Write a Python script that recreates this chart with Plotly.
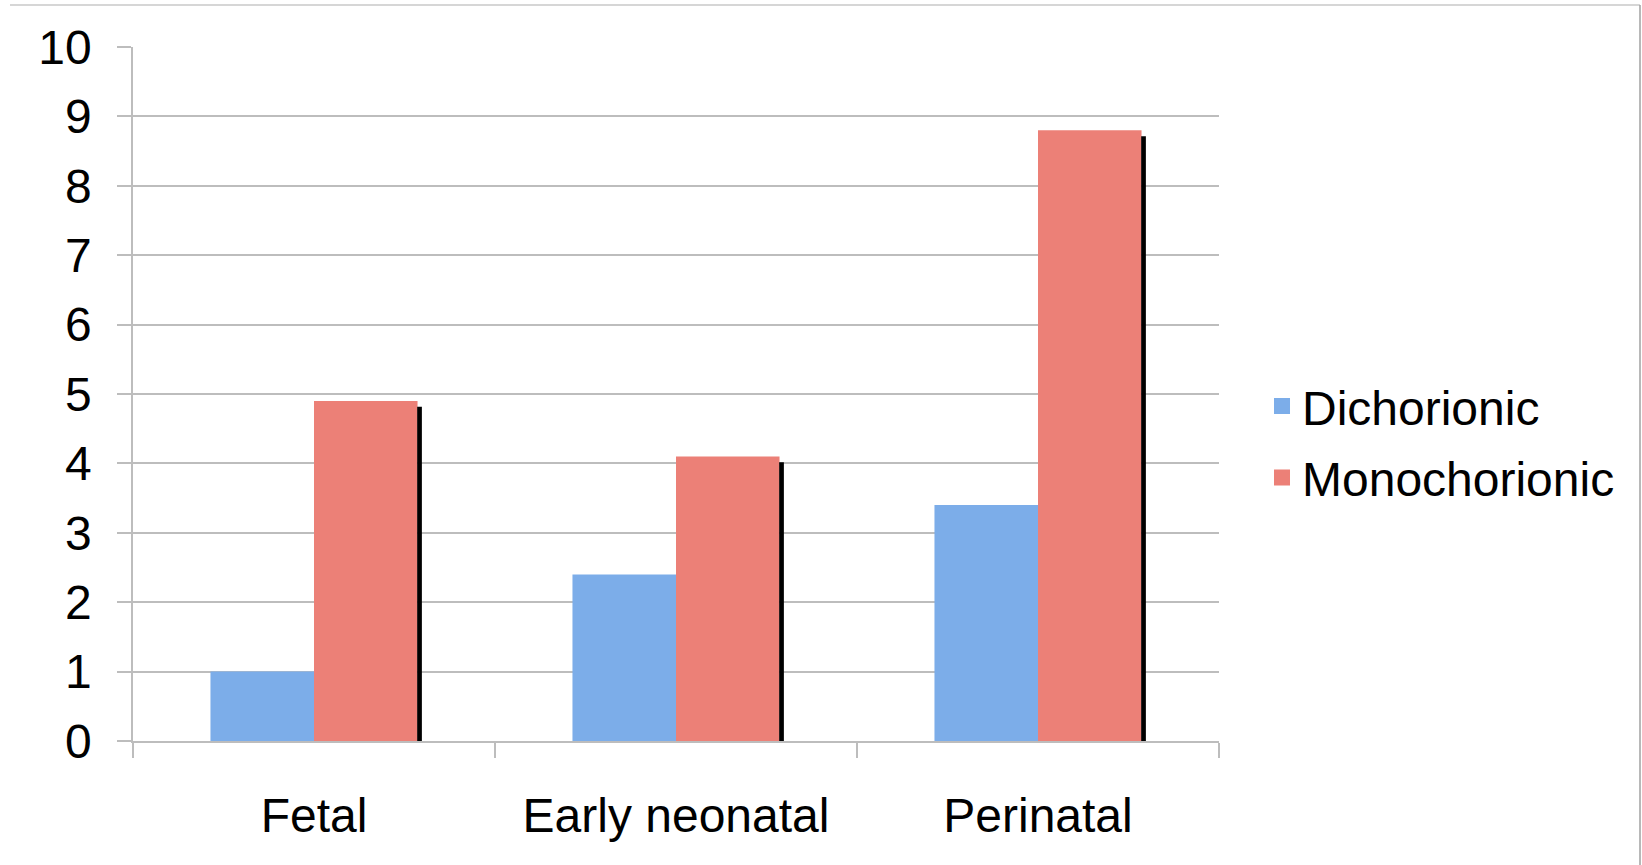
import plotly.graph_objects as go

categories = ["Fetal", "Early neonatal", "Perinatal"]
dichorionic = [1.0, 2.4, 3.4]
monochorionic = [4.9, 4.1, 8.8]
y_ticks = list(range(0, 11))

BLUE = "#7cade9"
RED = "#ec8077"
GRID = "#bdbdbd"
FONT = "Liberation Sans, Arial, sans-serif"

bar_w = 0.286
fig = go.Figure()
fig.add_trace(go.Bar(x=categories, y=dichorionic, name="Dichorionic", width=bar_w, offset=-bar_w,
                     marker=dict(color=BLUE, line=dict(width=0)), showlegend=False))
fig.add_trace(go.Bar(x=categories, y=monochorionic, name="Monochorionic", width=bar_w, offset=0,
                     marker=dict(color=RED, line=dict(width=0)), showlegend=False))
# drop shadow on the right of the monochorionic bars
fig.add_trace(go.Bar(x=categories, y=[v - 0.085 for v in monochorionic], width=0.013, offset=bar_w - 0.001,
                     marker=dict(color="black", line=dict(width=0)), showlegend=False, hoverinfo="skip"))
# legend entries
fig.add_trace(go.Scatter(x=[None], y=[None], mode="markers", name="Dichorionic", legendgroup="a",
                         marker=dict(symbol="square", size=24, color=BLUE)))
fig.add_trace(go.Scatter(x=[None], y=[None], mode="markers", name="Monochorionic", legendgroup="b",
                         marker=dict(symbol="square", size=24, color=RED)))

fig.update_layout(
    width=1642, height=865,
    margin=dict(l=133, r=423, t=47, b=124, autoexpand=False),
    paper_bgcolor="white", plot_bgcolor="white",
    barmode="overlay",
    font=dict(family=FONT, size=48, color="black"),
    legend=dict(x=1.0396, xanchor="left", y=0.431, yanchor="middle", traceorder="grouped",
                tracegroupgap=6, font=dict(size=48), bgcolor="rgba(0,0,0,0)", itemsizing="trace"),
    xaxis=dict(type="category", tickson="boundaries", ticks="outside", ticklen=15, tickcolor=GRID,
               tickwidth=1.5, showline=True, linecolor=GRID, linewidth=1.5, showgrid=False,
               ticklabelstandoff=32, tickfont=dict(size=48)),
    yaxis=dict(range=[0, 10], tickvals=y_ticks, ticks="outside", ticklen=14, tickcolor=GRID, tickwidth=1.5,
               showline=True, linecolor=GRID, linewidth=1.5, showgrid=True, gridcolor=GRID, gridwidth=1.5,
               zeroline=False, ticklabelstandoff=16, tickfont=dict(size=48)),
    shapes=[
        dict(type="line", xref="paper", yref="paper", x0=(10 - 133) / 1086, x1=(1640 - 133) / 1086,
             y0=(741 - 5) / 694, y1=(741 - 5) / 694, line=dict(color="#c8c8c8", width=1.5)),
        dict(type="line", xref="paper", yref="paper", x0=(1640 - 133) / 1086, x1=(1640 - 133) / 1086,
             y0=(741 - 5) / 694, y1=(741 - 865) / 694, line=dict(color="#a0a0a0", width=1.5)),
    ],
)

fig.write_html("out.html", config={"displayModeBar": False},
               post_script="document.body.style.margin='0';")
